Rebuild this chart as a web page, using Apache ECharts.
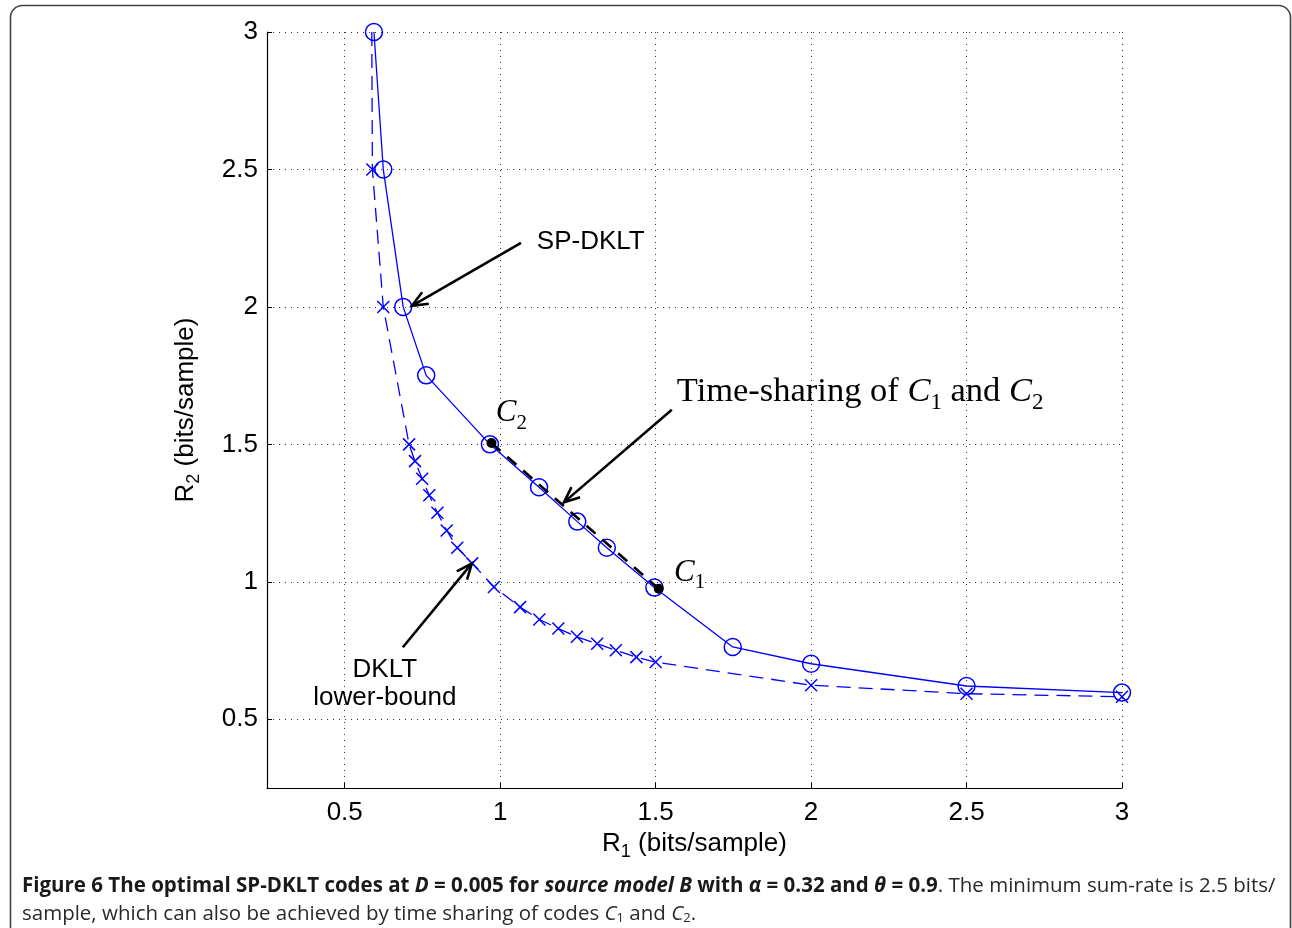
<!DOCTYPE html>
<html><head><meta charset="utf-8">
<script src="https://cdn.jsdelivr.net/npm/echarts@6/dist/echarts.min.js"></script>
<style>html,body{margin:0;padding:0;background:#fff}#c{width:1292px;height:928px}</style>
</head><body><div id="c"></div>
<script>
// ---- data ----
const xTicks = [0.5, 1, 1.5, 2, 2.5, 3];
const yTicks = [0.5, 1, 1.5, 2, 2.5, 3];
// SP-DKLT codes (circles, solid)
const spR1 = [0.594, 0.624, 0.688, 0.762, 0.967, 1.125, 1.248, 1.343, 1.496, 1.748, 2.0, 2.5, 3.0];
const spR2 = [3.0, 2.5, 2.0, 1.751, 1.5, 1.344, 1.219, 1.124, 0.979, 0.763, 0.702, 0.621, 0.597];
// DKLT lower-bound (crosses, dashed); first point has no visible marker
const dkR1 = [0.587, 0.589, 0.624, 0.707, 0.726, 0.749, 0.772, 0.798, 0.828, 0.862, 0.910, 0.980, 1.064, 1.126, 1.187, 1.247, 1.312, 1.372, 1.438, 1.500, 2.0, 2.5, 3.0];
const dkR2 = [3.0, 2.5, 2.0, 1.5, 1.439, 1.375, 1.315, 1.251, 1.187, 1.124, 1.067, 0.981, 0.908, 0.863, 0.830, 0.800, 0.775, 0.751, 0.726, 0.708, 0.624, 0.593, 0.582];
const dkHiddenMarker = [0];
// Time-sharing of C1 and C2 (C2 first, then C1)
const tsR1 = [0.972, 1.510];
const tsR2 = [1.505, 0.975];
// annotation anchors (data coordinates)
const spArrow = [[1.067, 2.233], [0.716, 2.004]];
const spText = [1.118, 2.237];
const tsArrow = [[1.552, 1.626], [1.205, 1.289]];
const tsText = [1.568, 1.680];
const dkArrow = [[0.687, 0.762], [0.909, 1.067]];
const dkText1 = [0.629, 0.680];
const dkText2 = [0.629, 0.578];
const c2Text = [0.986, 1.605];
const c1Text = [1.559, 1.025];

const BLUE = '#0000ff';
const SANS = '"Liberation Sans", Arial, sans-serif';
const SERIF = '"Liberation Serif", "Times New Roman", serif';
const CAP = '"Open Sans", sans-serif';
function zip(a, b) { return a.map((v, i) => [v, b[i]]); }

const chart = echarts.init(document.getElementById('c'), null, {renderer: 'canvas'});

const axisNameRich = {
  r: {fontSize: 26, fontFamily: SANS, color: '#000', lineHeight: 30, verticalAlign: 'top', padding: [0, 0, 12, 0]},
  s: {fontSize: 18, fontFamily: SANS, color: '#000', lineHeight: 18, verticalAlign: 'bottom'}
};

const dkData = zip(dkR1, dkR2).map((p, i) => dkHiddenMarker.indexOf(i) >= 0 ? {value: p, symbol: 'none'} : p);

const option = {
  animation: false,
  backgroundColor: '#fff',
  grid: {left: 267, top: 32, right: 170, bottom: 140, outerBoundsMode: 'none'},
  xAxis: {
    type: 'value', min: 0.25, max: 3,
    name: '{r|R}{s|1}{r| (bits/sample)}', nameLocation: 'middle', nameGap: 36,
    nameTextStyle: {rich: axisNameRich},
    axisLine: {show: true, onZero: false, lineStyle: {color: '#000', width: 1.2}},
    axisTick: {show: true, inside: true, length: 5, customValues: xTicks, lineStyle: {color: '#000', width: 1}},
    axisLabel: {customValues: xTicks, fontSize: 26, fontFamily: SANS, color: '#000', margin: 12},
    splitLine: {show: true, lineStyle: {color: '#333', type: [1, 5], width: 1}}
  },
  yAxis: {
    type: 'value', min: 0.25, max: 3,
    name: '{r|R}{s|2}{r| (bits/sample)}', nameLocation: 'middle', nameGap: 64,
    nameTextStyle: {rich: axisNameRich},
    axisLine: {show: true, onZero: false, lineStyle: {color: '#000', width: 1.2}},
    axisTick: {show: true, inside: true, length: 5, customValues: yTicks, lineStyle: {color: '#000', width: 1}},
    axisLabel: {customValues: yTicks, fontSize: 26, fontFamily: SANS, color: '#000', margin: 9},
    splitLine: {show: true, lineStyle: {color: '#333', type: [1, 5], width: 1}}
  },
  series: [
    {
      name: 'DKLT lower-bound', type: 'line', data: dkData,
      symbol: 'path://M0,0L10,10M10,0L0,10', symbolSize: 12,
      itemStyle: {color: 'transparent', borderColor: BLUE, borderWidth: 1.5},
      lineStyle: {color: BLUE, width: 1.3, type: [14, 8]},
      z: 2, silent: true
    },
    {
      name: 'SP-DKLT', type: 'line', data: zip(spR1, spR2),
      symbol: 'circle', symbolSize: 17,
      itemStyle: {color: 'transparent', borderColor: BLUE, borderWidth: 1.5},
      lineStyle: {color: BLUE, width: 1.3},
      z: 3, silent: true
    },
    {
      name: 'Time-sharing', type: 'line', data: zip(tsR1, tsR2),
      symbol: 'circle', symbolSize: 10,
      itemStyle: {color: '#000', borderWidth: 0},
      lineStyle: {color: '#000', width: 2.6, type: [12, 9]},
      z: 4, silent: true
    }
  ]
};
chart.setOption(option);

function px(p) { return chart.convertToPixel({gridIndex: 0}, p); }
function arrow(a) {
  const t = px(a[0]), h = px(a[1]);
  const dx = t[0] - h[0], dy = t[1] - h[1];
  const L = Math.hypot(dx, dy), bx = dx / L, by = dy / L;
  const len = 17, ang = 0.40;
  const r = (s) => [h[0] + len * (bx * Math.cos(s) - by * Math.sin(s)), h[1] + len * (bx * Math.sin(s) + by * Math.cos(s))];
  return [
    {type: 'polyline', silent: true, z: 100, shape: {points: [t, h]}, style: {stroke: '#000', lineWidth: 2.6, fill: null}},
    {type: 'polyline', silent: true, z: 100, shape: {points: [r(ang), h, r(-ang)]}, style: {stroke: '#000', lineWidth: 2.6, fill: null, lineJoin: 'miter'}}
  ];
}
function txt(p, text, opts) {
  const q = px(p);
  return Object.assign({type: 'text', silent: true, z: 100, x: q[0], y: q[1]}, {style: Object.assign({text: text}, opts)});
}
const serifRich = {
  n: {fontSize: 34.5, fontFamily: SERIF, fill: '#000', lineHeight: 40, verticalAlign: 'top', padding: [0, 0, 8, 0]},
  i: {fontSize: 34.5, fontFamily: SERIF, fontStyle: 'italic', fill: '#000', lineHeight: 40, verticalAlign: 'top', padding: [0, 0, 8, 0]},
  s: {fontSize: 23, fontFamily: SERIF, fill: '#000', lineHeight: 23, verticalAlign: 'bottom'}
};
const cRich = {
  i: {fontSize: 31, fontFamily: SERIF, fontStyle: 'italic', fill: '#000', lineHeight: 36, verticalAlign: 'top', padding: [0, 0, 8, 0]},
  s: {fontSize: 21, fontFamily: SERIF, fill: '#000', lineHeight: 21, verticalAlign: 'bottom'}
};
const CS = 20.5;
const capRich = {
  b: {fontSize: CS, fontFamily: CAP, fontWeight: 'bold', fill: '#1a1a1a'},
  bi: {fontSize: CS, fontFamily: CAP, fontWeight: 'bold', fontStyle: 'italic', fill: '#1a1a1a'},
  n: {fontSize: CS, fontFamily: CAP, fill: '#2a2a2a'},
  ni: {fontSize: CS, fontFamily: CAP, fontStyle: 'italic', fill: '#2a2a2a'},
  ns: {fontSize: 13, fontFamily: CAP, fill: '#2a2a2a', padding: [8, 0, 0, 0]}
};

const graphics = [].concat(
  [{type: 'rect', silent: true, z: 0, shape: {x: 10.5, y: 5.5, width: 1280, height: 980, r: 12}, style: {fill: null, stroke: '#444', lineWidth: 1.6}}],
  arrow(spArrow), arrow(tsArrow), arrow(dkArrow),
  [
    txt(spText, 'SP-DKLT', {font: '26px ' + SANS, fill: '#000', textAlign: 'left', textVerticalAlign: 'middle'}),
    txt(dkText1, 'DKLT', {font: '26px ' + SANS, fill: '#000', textAlign: 'center', textVerticalAlign: 'middle'}),
    txt(dkText2, 'lower-bound', {font: '26px ' + SANS, fill: '#000', textAlign: 'center', textVerticalAlign: 'middle'}),
    txt(tsText, '{n|Time-sharing of }{i|C}{s|1}{n| and }{i|C}{s|2}', {rich: serifRich, textAlign: 'left', textVerticalAlign: 'middle'}),
    txt(c2Text, '{i|C}{s|2}', {rich: cRich, textAlign: 'left', textVerticalAlign: 'middle'}),
    txt(c1Text, '{i|C}{s|1}', {rich: cRich, textAlign: 'left', textVerticalAlign: 'middle'}),
    {type: 'text', silent: true, z: 100, left: 22, top: 876, style: {rich: capRich,
      text: '{b|Figure 6 The optimal SP-DKLT codes at }{bi|D}{b| = 0.005 for }{bi|source model B}{b| with }{bi|α}{b| = 0.32 and }{bi|θ}{b| = 0.9}{n|. The minimum sum-rate is 2.5 bits/}'}},
    {type: 'text', silent: true, z: 100, left: 22, top: 904, style: {rich: capRich,
      text: '{n|sample, which can also be achieved by time sharing of codes }{ni|C}{ns|1}{n| and }{ni|C}{ns|2}{n|.}'}}
  ]
);
chart.setOption({graphic: graphics});
</script>
</body></html>
